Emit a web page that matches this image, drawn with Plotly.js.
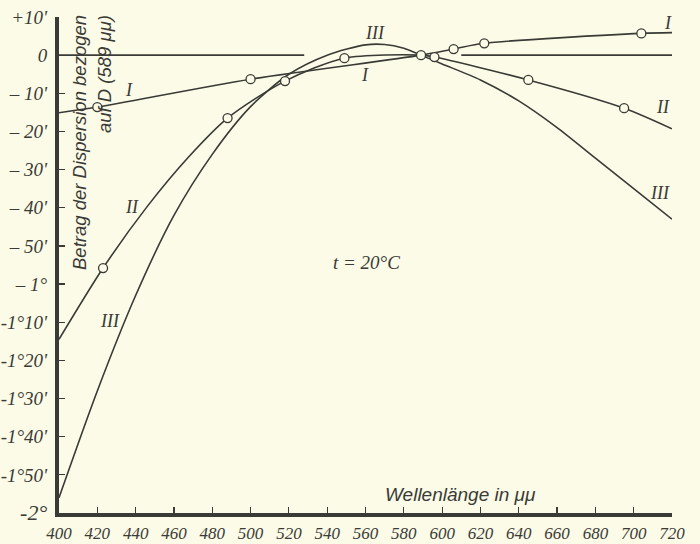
<!DOCTYPE html>
<html>
<head>
<meta charset="utf-8">
<script src="https://cdn.plot.ly/plotly-3.0.1.min.js"></script>
<style>html,body{margin:0;padding:0;background:#fbfbe7;}#chart{width:700px;height:544px;}</style>
</head>
<body>
<div id="chart"></div>
<script>
// Wavelength (mμ) and dispersion relative to D (589 mμ), in arc minutes
const curveI_x = [400, 420, 500, 589, 606, 622, 704, 720];
const curveI_y = [-15.1, -13.6, -6.3, 0, 1.6, 3.1, 5.7, 5.9];
const markI_x = [420, 500, 606, 622, 704];
const markI_y = [-13.6, -6.3, 1.6, 3.1, 5.7];

const curveII_x = [400, 423, 446, 468, 488, 518, 549, 589, 596, 645, 695, 720];
const curveII_y = [-74.5, -55.8, -39.7, -26.5, -16.5, -6.8, -0.8, 0, -0.5, -6.5, -13.9, -19.3];
const markII_x = [423, 488, 518, 549, 596, 645, 695];
const markII_y = [-55.8, -16.5, -6.8, -0.8, -0.5, -6.5, -13.9];

const curveIII_x = [400, 420, 440, 460, 480, 500, 520, 540, 560, 570, 580, 589, 600, 620, 640, 660, 680, 700, 720];
const curveIII_y = [-116, -88, -63, -42, -26, -13.5, -5, 0, 2.7, 2.8, 1.8, 0, -2.3, -6.5, -12, -19, -27, -35, -43];

const refD_x = [589];
const refD_y = [0];

const zero_x = [400, 528, null, 610, 720];
const zero_y = [0, 0, null, 0, 0];

const xTicks = [400,420,440,460,480,500,520,540,560,580,600,620,640,660,680,700,720];
const yTickVals = [10, 0, -10, -20, -30, -40, -50, -60, -70, -80, -90, -100, -110, -120];
const yTickText = ["+10'", "0", "– 10'", "– 20'", "– 30'", "– 40'", "– 50'", "– 1°", "-1°10'", "-1°20'", "-1°30'", "-1°40'", "-1°50'", '<span style="font-size:22px">-2°</span>'];

const ink = '#3a3a36';
const bg = '#fbfbe7';

function lineTrace(x, y) {
  return {x: x, y: y, mode: 'lines', type: 'scatter', hoverinfo: 'skip',
    line: {color: ink, width: 1.6, shape: 'spline', smoothing: 0.8}, showlegend: false, cliponaxis: false};
}
function markTrace(x, y) {
  return {x: x, y: y, mode: 'markers', type: 'scatter', hoverinfo: 'skip', showlegend: false, cliponaxis: false,
    marker: {symbol: 'circle', size: 9, color: bg, line: {color: ink, width: 1.3}}};
}

const data = [
  {x: zero_x, y: zero_y, mode: 'lines', type: 'scatter', line: {color: ink, width: 1.6}, showlegend: false, hoverinfo: 'skip'},
  lineTrace(curveI_x, curveI_y),
  lineTrace(curveII_x, curveII_y),
  lineTrace(curveIII_x, curveIII_y),
  markTrace(markI_x, markI_y),
  markTrace(markII_x, markII_y),
  markTrace(refD_x, refD_y)
];

const romanFont = {family: 'Liberation Serif', size: 18, color: ink, style: 'italic'};
const labelFont = {family: 'Liberation Sans Narrow', size: 19, color: ink, style: 'italic'};

function lab(text, x, y, font) {
  return {text: text, x: x, y: y, xref: 'x', yref: 'y', xanchor: 'center', yanchor: 'middle', showarrow: false, font: font || romanFont};
}

const layout = {
  width: 700, height: 544,
  margin: {l: 59, r: 28, t: 17, b: 31},
  paper_bgcolor: bg, plot_bgcolor: bg,
  xaxis: {
    range: [400, 720], tickvals: xTicks, ticktext: xTicks.map(String),
    showgrid: false, zeroline: false, showline: true, linewidth: 4, linecolor: ink,
    ticks: 'inside', ticklen: 6, tickwidth: 1.2, tickcolor: ink,
    tickfont: {family: 'Liberation Sans Narrow', size: 17, color: ink, style: 'italic'},
    ticklabelstandoff: 2
  },
  yaxis: {
    range: [-120, 10], tickvals: yTickVals, ticktext: yTickText,
    showgrid: false, zeroline: false, showline: true, linewidth: 4, linecolor: ink,
    ticks: 'inside', ticklen: 6, tickwidth: 1.2, tickcolor: ink,
    tickfont: {family: 'Liberation Sans Narrow', size: 19, color: ink, style: 'italic'},
    ticklabelstandoff: 4
  },
  annotations: [
    lab('I', 718.1, 8.4), lab('II', 715.5, -13.6), lab('III', 713.9, -36.0),
    lab('III', 565.1, 5.7), lab('I', 559.9, -5.2), lab('I', 436.7, -9.1),
    lab('II', 438.3, -39.7), lab('III', 426.8, -69.7),
    lab('0', 723.3, 0, labelFont),
    lab('t = 20°C', 560.4, -54.3, {family: 'Liberation Sans Narrow', size: 19, color: ink, style: 'italic'}),
    lab('Wellenlänge in μμ', 609.5, -115.1, {family: 'Liberation Sans', size: 19, color: ink, style: 'italic'}),
    {text: 'Betrag der Dispersion bezogen', xref: 'paper', yref: 'paper', x: (79 - 59) / 613, y: (513 - 143) / 496,
      xanchor: 'center', yanchor: 'middle',
      showarrow: false, textangle: -90, font: {family: 'Liberation Sans', size: 18.5, color: ink, style: 'italic'}},
    {text: 'auf D (589 μμ)', xref: 'paper', yref: 'paper', x: (105 - 59) / 613, y: (513 - 74) / 496,
      xanchor: 'center', yanchor: 'middle',
      showarrow: false, textangle: -90, font: {family: 'Liberation Sans', size: 18.5, color: ink, style: 'italic'}}
  ]
};

Plotly.newPlot('chart', data, layout, {staticPlot: true, displayModeBar: false});
</script>
</body>
</html>
